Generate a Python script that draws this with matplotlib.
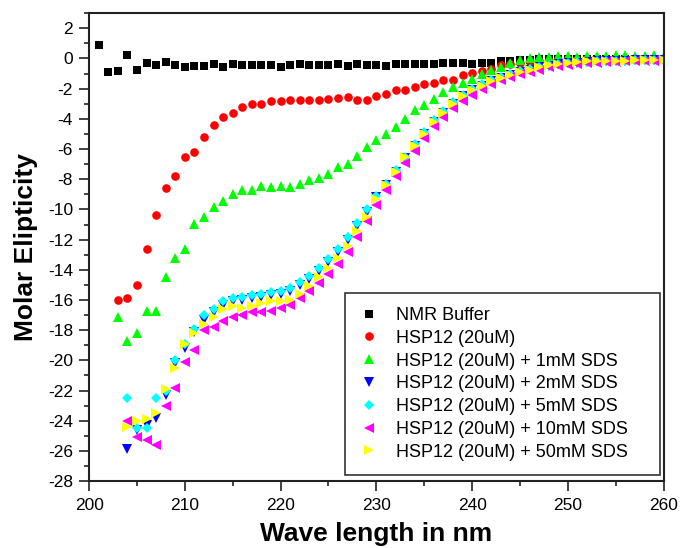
import matplotlib
matplotlib.use("Agg")
import matplotlib.pyplot as plt
from matplotlib.ticker import MultipleLocator

plt.rcParams["font.family"] = ["Liberation Sans", "DejaVu Sans"]
plt.rcParams["axes.unicode_minus"] = False

# wavelengths (nm)
wl_buffer = list(range(201, 261))
wl_hsp = list(range(203, 261))
wl_sds1 = list(range(203, 261))
wl_sds = list(range(204, 261))

buffer_vals = [0.86, -0.9, -0.84, 0.2, -0.75, -0.3, -0.42, -0.25, -0.46, -0.6,
               -0.5, -0.5, -0.4, -0.55, -0.4, -0.45, -0.45, -0.42, -0.42, -0.57,
               -0.42, -0.35, -0.45, -0.42, -0.42, -0.35, -0.5, -0.35, -0.42, -0.42,
               -0.5, -0.35, -0.35, -0.35, -0.35, -0.35, -0.31, -0.31, -0.31, -0.35,
               -0.29, -0.29, -0.2, -0.2, -0.13, -0.09, -0.07, -0.06, -0.05, -0.05,
               -0.04, -0.04, -0.03, -0.03, -0.02, -0.02, -0.02, -0.01, -0.01, -0.01]

hsp_vals = [-16.0, -15.9, -15.0, -12.6, -10.4, -8.6, -7.8, -6.5, -6.2, -5.2,
            -4.4, -3.9, -3.6, -3.2, -3.0, -3.0, -2.8, -2.8, -2.72, -2.72,
            -2.78, -2.72, -2.67, -2.6, -2.56, -2.72, -2.72, -2.49, -2.38, -2.12,
            -2.07, -1.9, -1.68, -1.61, -1.4, -1.4, -1.1, -0.94, -0.83, -0.68,
            -0.46, -0.35, -0.3, -0.25, -0.2, -0.15, -0.12, -0.1, -0.08, -0.07,
            -0.06, -0.05, -0.05, -0.04, -0.04, -0.03, -0.03, -0.03]

sds1_vals = [-17.1, -18.7, -18.2, -16.75, -16.75, -14.5, -13.2, -12.6, -10.95, -10.5,
             -9.85, -9.45, -9.0, -8.74, -8.74, -8.43, -8.5, -8.45, -8.5, -8.3,
             -8.08, -7.93, -7.64, -7.2, -6.98, -6.43, -5.87, -5.43, -4.99, -4.55,
             -4.0, -3.44, -3.11, -2.67, -2.23, -1.9, -1.63, -1.35, -1.02, -0.75,
             -0.57, -0.31, -0.09, 0.04, 0.1, 0.12, 0.15, 0.15, 0.12, 0.15,
             0.15, 0.15, 0.2, 0.2, 0.15, 0.15, 0.2, 0.15]

sds2_vals = [-25.9, -24.6, -24.3, -23.8, -22.3, -20.2, -19.2, -18.1, -17.3, -16.8,
             -16.3, -16.1, -16.0, -15.9, -15.8, -15.7, -15.6, -15.4, -15.0, -14.6,
             -14.1, -13.5, -12.8, -12.0, -11.1, -10.2, -9.2, -8.4, -7.5, -6.6,
             -5.8, -5.0, -4.2, -3.6, -3.0, -2.5, -2.1, -1.8, -1.5, -1.3,
             -1.1, -0.9, -0.75, -0.6, -0.5, -0.4, -0.33, -0.28, -0.24, -0.2,
             -0.18, -0.16, -0.14, -0.12, -0.1, -0.1, -0.08]

sds5_vals = [-22.5, -24.5, -24.5, -22.5, -22.0, -20.0, -18.9, -17.9, -17.0, -16.6,
             -16.1, -15.9, -15.8, -15.7, -15.6, -15.5, -15.4, -15.2, -14.8, -14.4,
             -13.9, -13.3, -12.6, -11.8, -10.9, -10.0, -9.1, -8.3, -7.4, -6.5,
             -5.7, -4.9, -4.1, -3.5, -2.9, -2.4, -2.0, -1.7, -1.4, -1.2,
             -1.0, -0.85, -0.7, -0.55, -0.45, -0.38, -0.3, -0.26, -0.22, -0.2,
             -0.18, -0.15, -0.15, -0.13, -0.12, -0.1, -0.1]

sds10_vals = [-24.0, -25.1, -25.3, -25.6, -23.0, -21.8, -20.1, -19.3, -18.0, -17.8,
              -17.4, -17.1, -17.0, -16.8, -16.8, -16.7, -16.5, -16.3, -15.9, -15.4,
              -14.9, -14.3, -13.6, -12.8, -11.8, -10.8, -9.7, -8.7, -7.8, -6.9,
              -6.1, -5.3, -4.5, -3.9, -3.3, -2.8, -2.4, -2.0, -1.7, -1.45,
              -1.25, -1.05, -0.9, -0.75, -0.6, -0.5, -0.42, -0.35, -0.3, -0.27,
              -0.24, -0.22, -0.2, -0.18, -0.17, -0.15, -0.15]

sds50_vals = [-24.4, -24.0, -23.9, -23.5, -21.9, -20.5, -18.9, -18.2, -17.6, -17.1,
              -16.6, -16.4, -16.5, -16.4, -16.2, -16.1, -16.1, -16.0, -15.6, -15.1,
              -14.5, -13.9, -13.2, -12.4, -11.4, -10.5, -9.3, -8.4, -7.5, -6.5,
              -5.8, -5.0, -4.2, -3.6, -3.0, -2.5, -2.1, -1.8, -1.5, -1.3,
              -1.1, -0.9, -0.75, -0.6, -0.45, -0.37, -0.3, -0.25, -0.2, -0.2,
              -0.15, -0.15, -0.15, -0.12, -0.1, -0.1, -0.1]

series = [
    (wl_buffer, buffer_vals, "s", "black", "NMR Buffer", 5.5),
    (wl_hsp, hsp_vals, "o", "red", "HSP12 (20uM)", 6.2),
    (wl_sds1, sds1_vals, "^", "#00ff00", "HSP12 (20uM) + 1mM SDS", 7),
    (wl_sds, sds2_vals, "v", "blue", "HSP12 (20uM) + 2mM SDS", 7),
    (wl_sds, sds5_vals, "D", "cyan", "HSP12 (20uM) + 5mM SDS", 5.5),
    (wl_sds, sds10_vals, "<", "magenta", "HSP12 (20uM) + 10mM SDS", 7),
    (wl_sds, sds50_vals, ">", "yellow", "HSP12 (20uM) + 50mM SDS", 7),
]

fig = plt.figure(figsize=(6.8, 5.48), dpi=100)
ax = fig.add_axes([0.131, 0.122, 0.845, 0.854])

for x, y, m, c, lab, ms in series:
    ax.plot(x, y, linestyle="none", marker=m, color=c, markersize=ms,
            markeredgewidth=0, label=lab)

ax.set_xlim(200, 260)
ax.set_ylim(-28, 3)
ax.xaxis.set_major_locator(MultipleLocator(10))
ax.xaxis.set_minor_locator(MultipleLocator(5))
ax.yaxis.set_major_locator(MultipleLocator(2))
ax.yaxis.set_minor_locator(MultipleLocator(1))
ax.tick_params(which="both", direction="out", top=False, right=False,
               labelsize=12.5, width=1.2, color="#222222")
ax.tick_params(which="major", length=7)
ax.tick_params(which="minor", length=3.5)
ax.tick_params(axis="x", which="major", pad=5)
ax.tick_params(axis="y", which="major", pad=4.5)
for sp in ax.spines.values():
    sp.set_linewidth(1.5)
    sp.set_color("#222222")

ax.set_xlabel("Wave length in nm", fontsize=19, fontweight="bold")
ax.set_ylabel("Molar Elipticity", fontsize=19, fontweight="bold")
ax.xaxis.set_label_coords(0.5, -0.088)
ax.yaxis.set_label_coords(-0.089, 0.5)

leg = ax.legend(loc="lower left", bbox_to_anchor=(0.445, 0.013, 0.548, 0.39),
                mode="expand", borderaxespad=0, fontsize=13, labelspacing=0.32,
                borderpad=0.8, handletextpad=1.0, handlelength=1.05,
                fancybox=False, framealpha=1, edgecolor="#333333")
leg.get_frame().set_linewidth(1.2)

fig.savefig("out.png", dpi=100)
